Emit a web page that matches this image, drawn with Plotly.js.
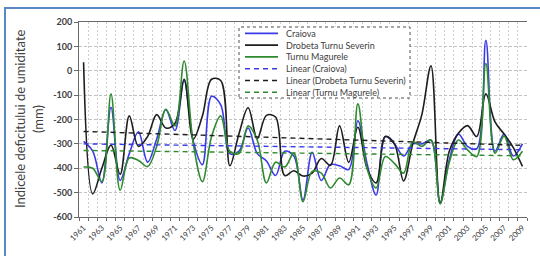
<!DOCTYPE html>
<html>
<head>
<meta charset="utf-8">
<script src="https://cdn.plot.ly/plotly-3.0.1.min.js"></script>
<style>
  html, body { margin: 0; padding: 0; background: #ffffff; }
  #chart { width: 540px; height: 256px; position: relative; }
  #frame { position: absolute; left: 4px; top: 7px; width: 600px; height: 400px;
           border-left: 2px solid #5a88c4; border-top: 2px solid #5a88c4; pointer-events: none; }
</style>
</head>
<body>
<div id="chart"></div>
<div id="frame"></div>
<script>
// ---- data ----
const years = [1961,1962,1963,1964,1965,1966,1967,1968,1969,1970,1971,1972,1973,1974,1975,1976,1977,1978,1979,1980,1981,1982,1983,1984,1985,1986,1987,1988,1989,1990,1991,1992,1993,1994,1995,1996,1997,1998,1999,2000,2001,2002,2003,2004,2005,2006,2007,2008,2009];
const tickYears = [1961,1963,1965,1967,1969,1971,1973,1975,1977,1979,1981,1983,1985,1987,1989,1991,1993,1995,1997,1999,2001,2003,2005,2007,2009];
const yTicks = [200,100,0,-100,-200,-300,-400,-500,-600];

const craiova = [-290,-330,-460,-150,-450,-340,-250,-375,-280,-160,-245,-40,-290,-385,-105,-140,-340,-330,-235,-340,-370,-430,-330,-350,-530,-335,-450,-385,-390,-405,-205,-380,-510,-270,-300,-350,-300,-300,-285,-540,-365,-260,-310,-320,125,-330,-260,-350,-300];
const drobeta = [35,-505,-400,-305,-425,-185,-310,-270,-180,-235,-215,-35,-280,-185,-35,-40,-390,-258,-152,-278,-183,-190,-430,-410,-432,-420,-360,-388,-226,-376,-232,-400,-460,-270,-300,-452,-300,-180,20,-545,-330,-256,-225,-270,-95,-210,-260,-315,-392];
const magurele = [-395,-400,-455,-95,-490,-358,-368,-393,-310,-158,-226,40,-300,-455,-270,-185,-330,-340,-226,-285,-460,-375,-395,-338,-537,-413,-420,-481,-440,-468,-136,-400,-481,-352,-380,-420,-292,-310,-284,-545,-375,-284,-325,-352,30,-338,-268,-365,-330];

// linear trend end points (1961, 2009)
const trendYears = [1961, 2009];
const trendCraiova = [-300, -324];
const trendDrobeta = [-249, -306];
const trendMagurele = [-327, -349];

const names = ["Craiova", "Drobeta Turnu Severin", "Turnu Magurele",
               "Linear (Craiova)", "Linear (Drobeta Turnu Severin)", "Linear (Turnu Magurele)"];
const colors = ["#3a3ae8", "#1e1e1e", "#2e8a2e"];

// ---- geometry helpers (pixel -> paper) ----
const PL = 79, PR = 527, PT = 22, PB = 217;
const px = x => (x - PL) / (PR - PL);
const py = y => (PB - y) / (PB - PT);

const traces = [
  {x: years, y: craiova, name: names[0]},
  {x: years, y: drobeta, name: names[1]},
  {x: years, y: magurele, name: names[2]}
].map((t, i) => Object.assign(t, {
  type: 'scatter', mode: 'lines',
  line: {color: colors[i], width: 1.6, shape: 'spline', smoothing: 1},
  showlegend: false, hoverinfo: 'skip'
}));

const trends = [trendCraiova, trendDrobeta, trendMagurele].map((v, i) => ({
  type: 'scatter', mode: 'lines', x: trendYears, y: v, name: names[3 + i],
  line: {color: colors[i], width: 1.4, dash: '5px,4px'},
  showlegend: false, hoverinfo: 'skip'
}));

const data = traces.concat(trends);

// ---- manual legend ----
const legX0 = 239, legX1 = 410, legY0 = 27, legY1 = 98;
const rowY = [33.3, 45.1, 56.9, 68.7, 80.5, 92.3];
const shapes = [{
  type: 'rect', xref: 'paper', yref: 'paper', layer: 'above',
  x0: px(legX0), x1: px(legX1), y0: py(legY1), y1: py(legY0),
  line: {color: '#505050', width: 1, dash: 'dot'}, fillcolor: '#ffffff'
}];
const annotations = [];
names.forEach((n, i) => {
  const c = colors[i % 3];
  shapes.push({
    type: 'line', xref: 'paper', yref: 'paper', layer: 'above',
    x0: px(245), x1: px(278), y0: py(rowY[i]), y1: py(rowY[i]),
    line: {color: c, width: i < 3 ? 1.8 : 1.5, dash: i < 3 ? 'solid' : '5px,4px'}
  });
  annotations.push({
    xref: 'paper', yref: 'paper', x: px(284), y: py(rowY[i]),
    xanchor: 'left', yanchor: 'middle', showarrow: false, text: n,
    font: {family: 'Lato, "Liberation Sans", sans-serif', size: 9, color: '#404040'}
  });
});

// y-axis title as annotation (two lines)
annotations.push({
  xref: 'paper', yref: 'paper', x: px(20), y: py(119), xanchor: 'center', yanchor: 'middle',
  textangle: -90, showarrow: false, text: 'Indicele deficitului de umiditate',
  font: {family: 'Lato, "Liberation Sans", sans-serif', size: 13, color: '#404040'}
});
annotations.push({
  xref: 'paper', yref: 'paper', x: px(38), y: py(119), xanchor: 'center', yanchor: 'middle',
  textangle: -90, showarrow: false, text: '(mm)',
  font: {family: 'Lato, "Liberation Sans", sans-serif', size: 13, color: '#404040'}
});

const layout = {
  width: 540, height: 256,
  margin: {l: PL, r: 540 - PR, t: PT, b: 256 - PB, pad: 0},
  paper_bgcolor: '#ffffff', plot_bgcolor: '#ffffff',
  showlegend: false,
  xaxis: {
    range: [1960.5, 2009.5], tickmode: 'array', tickvals: tickYears, ticktext: tickYears.map(String),
    tickangle: -45, ticks: 'outside', ticklen: 2, tickcolor: 'rgba(0,0,0,0)', showgrid: false, zeroline: false,
    showline: true, linecolor: '#6a6a6a', linewidth: 1, mirror: true,
    tickfont: {family: 'Lato, "Liberation Sans", sans-serif', size: 8, color: '#404040'},
    minor: {tickmode: 'linear', tick0: 1960.5, dtick: 1, ticks: 'outside', ticklen: 3,
            tickcolor: '#6a6a6a', tickwidth: 1, showgrid: true, gridcolor: '#cdcdcd',
            gridwidth: 1, griddash: '2px,2px'}
  },
  yaxis: {
    range: [-600, 200], tickmode: 'array', tickvals: yTicks, ticktext: yTicks.map(String),
    ticks: 'outside', ticklen: 4, tickcolor: '#6a6a6a',
    showgrid: true, gridcolor: '#c2c2c2', gridwidth: 1, griddash: '3px,2px',
    zeroline: false, showline: true, linecolor: '#6a6a6a', linewidth: 1,
    tickfont: {family: 'Lato, "Liberation Sans", sans-serif', size: 9, color: '#404040', weight: 'bold'},
    automargin: false
  },
  shapes: shapes,
  annotations: annotations
};

Plotly.newPlot('chart', data, layout, {staticPlot: true, displayModeBar: false});
</script>
</body>
</html>
